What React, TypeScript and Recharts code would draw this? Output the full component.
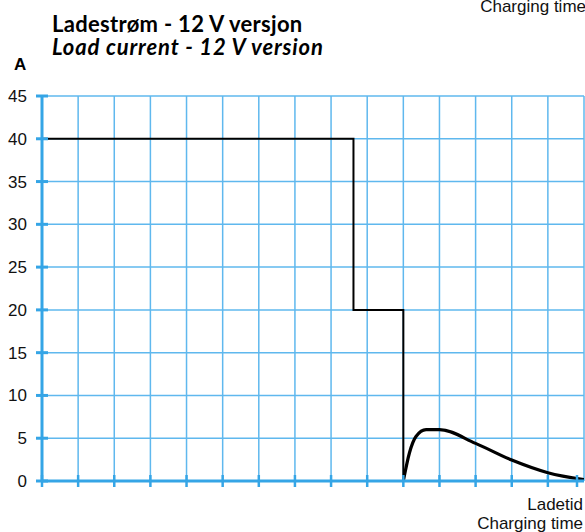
import { LineChart, Line, XAxis, YAxis, CartesianGrid } from 'recharts'

// Charging profile: constant current steps, then the float bump
const stepTime = [0, 8.62, 8.62, 10, 10]
const stepCurrent = [40, 40, 20, 20, 0]
const floatTime = [10, 10.17, 10.35, 10.63, 11, 12, 13, 14, 15]
const floatCurrent = [0, 3.3, 5.2, 6, 6, 4.4, 2.45, 0.97, 0.15]
const yTicks = [0, 5, 10, 15, 20, 25, 30, 35, 40, 45]
const xTicks = [0, 1, 2, 3, 4, 5, 6, 7, 8, 9, 10, 11, 12, 13, 14, 15]

const AXIS = '#35a5e6'
const GRID = '#5fb8ee'
const LABEL_FONT = '"Liberation Sans", Arial, sans-serif'
const TITLE_FONT = 'Lato, "Noto Sans", sans-serif'

const stepData = stepTime.map((t, i) => ({ t, a: stepCurrent[i] }))
const floatData = floatTime.map((t, i) => ({ t, a: floatCurrent[i] }))

function YTick({ x, y, payload }: any) {
  return (
    <g>
      <line x1={x - 6} x2={x + 6} y1={y} y2={y} stroke={AXIS} strokeWidth={3} />
      <text x={x - 15} y={y + 6} textAnchor="end" fontSize={17} fill="#111" fontFamily={LABEL_FONT}>
        {payload.value}
      </text>
    </g>
  )
}

function XTick({ x, y }: any) {
  return <line x1={x} x2={x} y1={y - 6} y2={y + 6} stroke={AXIS} strokeWidth={2.5} />
}

export default function App() {
  return (
    <div style={{ position: 'relative', width: 585, height: 532, background: '#fff' }}>
      <style>{'body{margin:0}'}</style>
      <LineChart
        width={585}
        height={532}
        margin={{ top: 96, right: 1, left: 0, bottom: 31 }}
      >
        <CartesianGrid stroke={GRID} strokeWidth={1.5} />
        <XAxis
          type="number"
          dataKey="t"
          domain={[0, 15]}
          ticks={xTicks}
          height={20}
          tickSize={0}
          tickMargin={0}
          tickLine={false}
          axisLine={{ stroke: AXIS, strokeWidth: 3 }}
          tick={<XTick />}
          allowDataOverflow
        />
        <YAxis
          type="number"
          domain={[0, 45]}
          ticks={yTicks}
          width={42}
          tickSize={0}
          tickMargin={0}
          tickLine={false}
          axisLine={{ stroke: AXIS, strokeWidth: 3 }}
          tick={<YTick />}
        />
        <Line
          data={stepData}
          dataKey="a"
          type="linear"
          stroke="#000"
          strokeWidth={2}
          dot={false}
          isAnimationActive={false}
        />
        <Line
          data={floatData}
          dataKey="a"
          type="monotone"
          stroke="#000"
          strokeWidth={3.2}
          dot={false}
          isAnimationActive={false}
        />
      </LineChart>
      <svg
        width={585}
        height={532}
        style={{ position: 'absolute', left: 0, top: 0, pointerEvents: 'none' }}
      >
        <text x={586} y={12} textAnchor="end" fontSize={17} fontFamily={LABEL_FONT} fill="#111">
          Charging time
        </text>
        <text x={52} y={32} fontSize={22} fontWeight={700} letterSpacing={0.3} fontFamily={TITLE_FONT} fill="#000">
          Ladestrøm - 12 V versjon
        </text>
        <text x={52} y={55} fontSize={22} fontWeight={700} fontStyle="italic" letterSpacing={0.85} fontFamily={TITLE_FONT} fill="#000">
          Load current - 12 V version
        </text>
        <text x={14} y={70} fontSize={17} fontWeight={700} fontFamily={LABEL_FONT} fill="#000">
          A
        </text>
        <text x={583} y={510} textAnchor="end" fontSize={17} fontFamily={LABEL_FONT} fill="#111">
          Ladetid
        </text>
        <text x={583} y={529} textAnchor="end" fontSize={17} fontFamily={LABEL_FONT} fill="#111">
          Charging time
        </text>
      </svg>
    </div>
  )
}
